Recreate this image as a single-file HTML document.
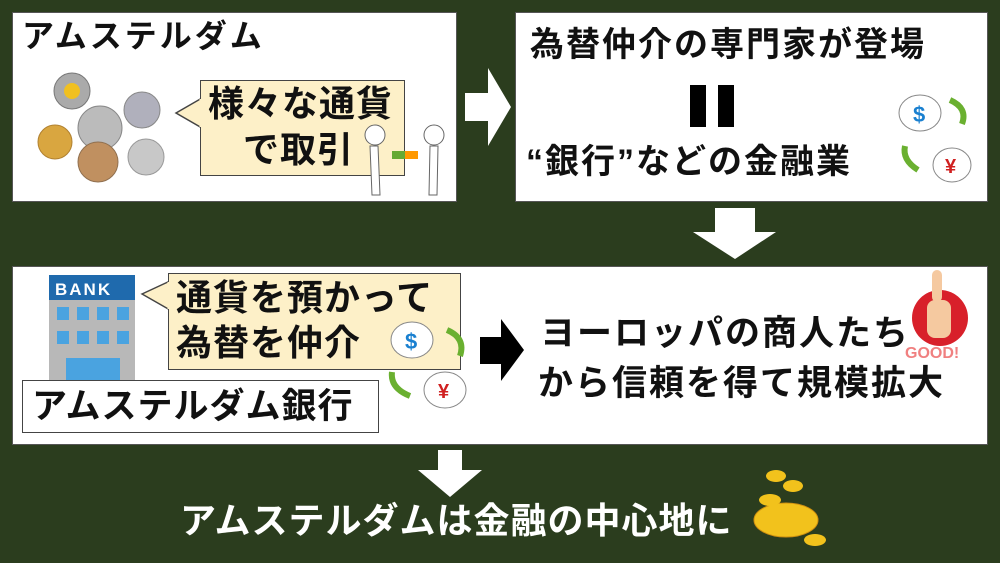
<!DOCTYPE html>
<html><head><meta charset="utf-8"><style>
*{margin:0;padding:0;box-sizing:border-box}
body{width:1000px;height:563px;background:#2b3d1e;position:relative;overflow:hidden;font-family:"Liberation Sans","Noto Sans CJK JP",sans-serif;font-weight:bold}
.box{position:absolute;background:#fff;border:1px solid #555}
.t{position:absolute;white-space:nowrap;color:#111;line-height:1}
.bub{position:absolute;background:#fdf0c8;border:1.5px solid #444}
svg{position:absolute;overflow:visible}
</style></head><body>
<div class="box" style="left:12px;top:12px;width:445px;height:190px"></div>
<div class="t" style="left:22px;top:20px;font-size:32px;letter-spacing:3px">アムステルダム</div>
<svg style="left:0;top:0" width="1000" height="563">
 <circle cx="72" cy="91" r="18" fill="#aaa" stroke="#777"/><circle cx="72" cy="91" r="8" fill="#f0c020"/>
 <circle cx="142" cy="110" r="18" fill="#b0b0bc" stroke="#888"/>
 <circle cx="100" cy="128" r="22" fill="#bbb" stroke="#888"/>
 <circle cx="55" cy="142" r="17" fill="#d9a640" stroke="#b08030"/>
 <circle cx="98" cy="162" r="20" fill="#c09060" stroke="#907050"/>
 <circle cx="146" cy="157" r="18" fill="#c8c8c8" stroke="#999"/>
 <polygon points="176,113 202,98 202,128" fill="#fdf0c8" stroke="#444" stroke-width="1.5"/>
</svg>
<div class="bub" style="left:200px;top:80px;width:205px;height:96px"></div>
<svg style="left:0;top:0" width="1000" height="563"><line x1="201" y1="99" x2="201" y2="127" stroke="#fdf0c8" stroke-width="3"/></svg>
<div class="t" style="left:208px;top:86px;font-size:36px;letter-spacing:1px">様々な通貨</div>
<div class="t" style="left:243px;top:132px;font-size:36px;letter-spacing:1px">で取引</div>
<svg style="left:0;top:0" width="1000" height="563" fill="#fff" stroke="#666">
 <circle cx="375" cy="135" r="10"/><path d="M370 146 L378 146 L380 195 L372 195 Z"/>
 <circle cx="434" cy="135" r="10"/><path d="M430 146 L438 146 L437 195 L429 195 Z"/>
 <rect x="392" y="151" width="13" height="8" fill="#6a3" stroke="none"/><rect x="405" y="151" width="13" height="8" fill="#f90" stroke="none"/>
</svg>
<svg style="left:0;top:0" width="1000" height="563"><polygon points="465,93 488,93 488,68 511,107 488,146 488,121 465,121" fill="#fff"/></svg>

<div class="box" style="left:515px;top:12px;width:473px;height:190px"></div>
<div class="t" style="left:530px;top:28px;font-size:34px;letter-spacing:2px">為替仲介の専門家が登場</div>
<div style="position:absolute;left:690px;top:85px;width:16px;height:42px;background:#000"></div>
<div style="position:absolute;left:718px;top:85px;width:16px;height:42px;background:#000"></div>
<div class="t" style="left:526px;top:145px;font-size:34px;letter-spacing:2px">“銀行”などの金融業</div>
<svg style="left:0;top:0" width="1000" height="563">
 <ellipse cx="920" cy="113" rx="21" ry="18" fill="#fff" stroke="#888"/><text x="913" y="122" font-size="22" fill="#1a80d0" font-family="Liberation Sans">$</text>
 <ellipse cx="952" cy="165" rx="19" ry="17" fill="#fff" stroke="#888"/><text x="945" y="173" font-size="20" fill="#d02020" font-family="Liberation Sans">¥</text>
 <path d="M950 100 Q968 108 962 124" stroke="#6ab030" stroke-width="6" fill="none"/>
 <path d="M918 170 Q902 160 905 146" stroke="#6ab030" stroke-width="6" fill="none"/>
</svg>
<svg style="left:0;top:0" width="1000" height="563"><polygon points="715,208 755,208 755,232 776,232 735,259 693,232 715,232" fill="#fff"/></svg>

<div class="box" style="left:12px;top:266px;width:976px;height:179px"></div>
<svg style="left:0;top:0" width="1000" height="563">
 <rect x="49" y="275" width="86" height="105" fill="#b8b8b8"/>
 <rect x="49" y="275" width="86" height="25" fill="#1f6aad"/>
 <text x="55" y="295" font-size="17" fill="#fff" font-family="Liberation Sans" font-weight="bold" letter-spacing="2">BANK</text>
 <g fill="#4aa3e0"><rect x="57" y="307" width="12" height="13"/><rect x="77" y="307" width="12" height="13"/><rect x="97" y="307" width="12" height="13"/><rect x="117" y="307" width="12" height="13"/>
 <rect x="57" y="331" width="12" height="13"/><rect x="77" y="331" width="12" height="13"/><rect x="97" y="331" width="12" height="13"/><rect x="117" y="331" width="12" height="13"/>
 <rect x="66" y="358" width="54" height="22"/></g>
 <polygon points="142,294 170,281 170,310" fill="#fdf0c8" stroke="#444" stroke-width="1.5"/>
</svg>
<div class="bub" style="left:168px;top:273px;width:293px;height:97px"></div>
<svg style="left:0;top:0" width="1000" height="563"><line x1="169" y1="282" x2="169" y2="309" stroke="#fdf0c8" stroke-width="3"/></svg>
<div class="t" style="left:176px;top:280px;font-size:36px;letter-spacing:1px">通貨を預かって</div>
<div class="t" style="left:176px;top:325px;font-size:36px;letter-spacing:1px">為替を仲介</div>
<svg style="left:0;top:0" width="1000" height="563">
 <ellipse cx="412" cy="340" rx="21" ry="18" fill="#fff" stroke="#888"/><text x="405" y="349" font-size="22" fill="#1a80d0" font-family="Liberation Sans">$</text>
 <ellipse cx="445" cy="390" rx="21" ry="18" fill="#fff" stroke="#888"/><text x="438" y="398" font-size="20" fill="#d02020" font-family="Liberation Sans">¥</text>
 <path d="M447 330 Q466 338 460 356" stroke="#6ab030" stroke-width="6" fill="none"/>
 <path d="M410 396 Q390 388 392 372" stroke="#6ab030" stroke-width="6" fill="none"/>
</svg>
<div style="position:absolute;left:22px;top:380px;width:357px;height:53px;background:#fff;border:1.5px solid #444"></div>
<div class="t" style="left:32px;top:389px;font-size:35px;letter-spacing:1px">アムステルダム銀行</div>
<svg style="left:0;top:0" width="1000" height="563"><polygon points="480,337 501,337 501,319 524,350 501,381 501,364 480,364" fill="#000"/></svg>
<div class="t" style="left:540px;top:316px;font-size:35px;letter-spacing:2px">ヨーロッパの商人たち</div>
<div class="t" style="left:538px;top:366px;font-size:35px;letter-spacing:2px">から信頼を得て規模拡大</div>
<svg style="left:0;top:0" width="1000" height="563">
 <circle cx="940" cy="318" r="28" fill="#d8202a"/>
 <rect x="927" y="300" width="24" height="38" rx="8" fill="#f5c9a0"/><rect x="932" y="270" width="10" height="32" rx="5" fill="#f5c9a0"/>
 <text x="905" y="358" font-size="16" fill="#f08080" font-family="Liberation Sans" font-weight="bold">GOOD!</text>
</svg>
<svg style="left:0;top:0" width="1000" height="563"><polygon points="438,450 462,450 462,470 482,470 450,497 418,470 438,470" fill="#fff"/></svg>
<div class="t" style="left:180px;top:503px;font-size:36px;color:#fff;letter-spacing:1px">アムステルダムは金融の中心地に</div>
<svg style="left:0;top:0" width="1000" height="563">
 <ellipse cx="786" cy="520" rx="32" ry="17" fill="#f2c21c" stroke="#d09010"/>
 <ellipse cx="770" cy="500" rx="11" ry="6" fill="#f2c21c"/><ellipse cx="776" cy="476" rx="10" ry="6" fill="#f2c21c"/><ellipse cx="793" cy="486" rx="10" ry="6" fill="#f2c21c"/>
 <ellipse cx="815" cy="540" rx="11" ry="6" fill="#f2c21c"/>
</svg>
</body></html>
